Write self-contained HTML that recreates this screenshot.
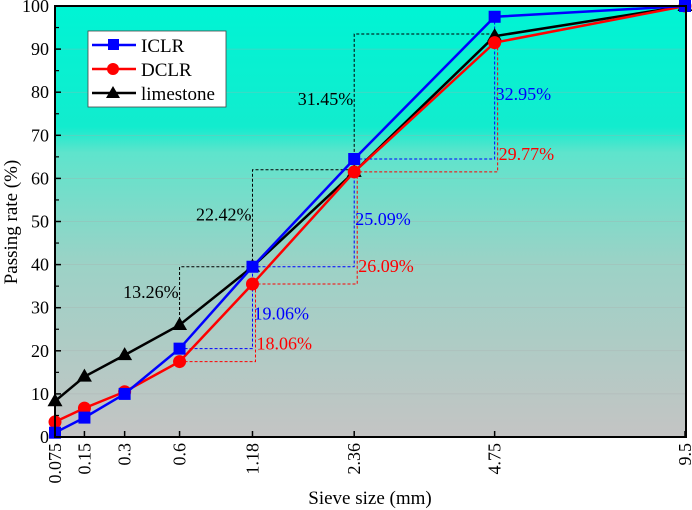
<!DOCTYPE html>
<html><head><meta charset="utf-8"><style>
body{margin:0;background:#fff;}
svg{display:block;font-family:"Liberation Serif",serif;}
</style></head><body>
<svg id="c" width="692" height="510">
<defs><linearGradient id="bg" x1="0" y1="0" x2="0" y2="1">
<stop offset="0" stop-color="#00f4d4"/><stop offset="0.28" stop-color="#12ecce"/>
<stop offset="0.34" stop-color="#5ee4cc"/><stop offset="0.6" stop-color="#9cd2c6"/>
<stop offset="1" stop-color="#c4c4c4"/></linearGradient></defs>
<rect x="55" y="6" width="631" height="431" fill="url(#bg)"/>
<g id="grid"></g><g id="ann"></g><g id="series"></g>
<rect x="55" y="6" width="631" height="431" fill="none" stroke="#000" stroke-width="2"/>
<g id="axes"></g>
<text x="370" y="504" font-size="19" text-anchor="middle">Sieve size (mm)</text>
<text transform="translate(17,222) rotate(-90)" font-size="19" text-anchor="middle">Passing rate (%)</text>
<g>
<rect x="88" y="31" width="138" height="76" fill="#fff" stroke="#444" stroke-width="0.8"/>
<line x1="92" y1="45" x2="136" y2="45" stroke="#0000ff" stroke-width="2.5"/><rect x="108" y="39" width="11" height="11" fill="#0000ff"/>
<text x="141" y="52" font-size="19">ICLR</text>
<line x1="92" y1="69" x2="136" y2="69" stroke="#ff0000" stroke-width="2.5"/><circle cx="113" cy="69" r="6" fill="#ff0000"/>
<text x="141" y="76" font-size="19">DCLR</text>
<line x1="92" y1="93" x2="136" y2="93" stroke="#000" stroke-width="2.5"/><path d="M113 86 L120 98 L106 98Z" fill="#000"/>
<text x="141" y="100" font-size="19">limestone</text>
</g>
</svg>
<script>
const sizes=[0.075,0.15,0.3,0.6,1.18,2.36,4.75,9.5];
const sizeLabels=["0.075","0.15","0.3","0.6","1.18","2.36","4.75","9.5"];
const iclr=[1,4.5,10,20.5,39.5,64.5,97.5,100];
const dclr=[3.5,6.7,10.5,17.5,35.5,61.5,91.5,100];
const limestone=[8.3,14,19,26,39.5,61.5,93,100];
const yTicks=[0,10,20,30,40,50,60,70,80,90,100];
const blackLabels=["13.26%","22.42%","31.45%"];
const blueLabels=["19.06%","25.09%","32.95%"];
const redLabels=["18.06%","26.09%","29.77%"];
const blackTops=[39.5,62,93.5];

const NS="http://www.w3.org/2000/svg";
const p=0.45,x0=55,x1=685,yb=437,yt=6;
const lo=Math.pow(0.075,p),hi=Math.pow(9.5,p);
const X=v=>x0+(Math.pow(v,p)-lo)/(hi-lo)*(x1-x0);
const Y=v=>yb-v/100*(yb-yt);
function mk(par,tag,at){const e=document.createElementNS(NS,tag);for(const k in at)e.setAttribute(k,at[k]);document.getElementById(par).appendChild(e);return e;}

yTicks.forEach((t,i)=>{
 if(t>0&&t<100){const g=mk('grid','line',{x1:x0,x2:686,y1:Y(t),y2:Y(t),stroke:'#aaa','stroke-width':0.5,'stroke-opacity':0.6});
 
 }
 const tk=mk('axes','line',{x1:x0,x2:x0+6,y1:Y(t),y2:Y(t),stroke:'#000','stroke-width':1.5});
 
 
 if(t<100){const m=mk('axes','line',{x1:x0,x2:x0+4,y1:Y(t+5),y2:Y(t+5),stroke:'#000','stroke-width':1.2});
 
 }
 const tx=mk('axes','text',{x:x0-6,y:Y(t)+6,'font-size':18,'text-anchor':'end'});
 tx.textContent=t;
 
 
});
sizes.forEach((s,i)=>{
 const tk=mk('axes','line',{x1:X(s),x2:X(s),y1:yb,y2:yb-6,stroke:'#000','stroke-width':1.5});
 
 
 const tx=mk('axes','text',{transform:`translate(${X(s)+6},${yb+6}) rotate(-90)`,'font-size':18,'text-anchor':'end'});
 tx.textContent=sizeLabels[i];
 
 
});

for(let k=0;k<3;k++){
 const a=sizes[k+3],b=sizes[k+4];
 const bl=mk('ann','path',{d:`M${X(a)} ${Y(limestone[k+3])} V${Y(blackTops[k])} H${X(b)}`,fill:'none',stroke:'#000','stroke-width':1,'stroke-dasharray':'3,2'});
 
 
 const bu=mk('ann','path',{d:`M${X(a)} ${Y(iclr[k+3])} H${X(b)} V${Y(iclr[k+4])}`,fill:'none',stroke:'#0000ff','stroke-width':1,'stroke-dasharray':'3,2'});
 
 
 const rd=mk('ann','path',{d:`M${X(a)} ${Y(dclr[k+3])} H${X(b)+3} V${Y(dclr[k+4])}`,fill:'none',stroke:'#ff0000','stroke-width':1,'stroke-dasharray':'3,2'});
 
 
 const t1=mk('ann','text',{x:X(a)-1,y:(Y(limestone[k+3])+Y(blackTops[k]))/2+2,'font-size':18,'text-anchor':'end',fill:'#000'});
 t1.textContent=blackLabels[k];
 
 
 const t2=mk('ann','text',{x:X(b)+1,y:(Y(iclr[k+3])+Y(iclr[k+4]))/2+12,'font-size':18,fill:'#0000ff'});
 t2.textContent=blueLabels[k];
 
 
 const t3=mk('ann','text',{x:X(b)+4,y:Y(dclr[k+3])-12,'font-size':18,fill:'#ff0000'});
 t3.textContent=redLabels[k];
 
 
}

function series(vals,color,shape,name){
 const pl=mk('series','polyline',{points:sizes.map((s,i)=>X(s)+','+Y(vals[i])).join(' '),fill:'none',stroke:color,'stroke-width':2.5});
 
 
 sizes.forEach((s,i)=>{
  const x=X(s),y=Y(vals[i]);let m;
  if(shape==='sq')m=mk('series','rect',{x:x-6,y:y-6,width:12,height:12,fill:color});
  else if(shape==='ci')m=mk('series','circle',{cx:x,cy:y,r:6.5,fill:color});
  else m=mk('series','path',{d:`M${x} ${y-8} L${x+7.5} ${y+5} L${x-7.5} ${y+5}Z`,fill:color});
  
  
 });
}
series(limestone,'#000','tri','limestone');
series(dclr,'#ff0000','ci','dclr');
series(iclr,'#0000ff','sq','iclr');
</script>
</body></html>
